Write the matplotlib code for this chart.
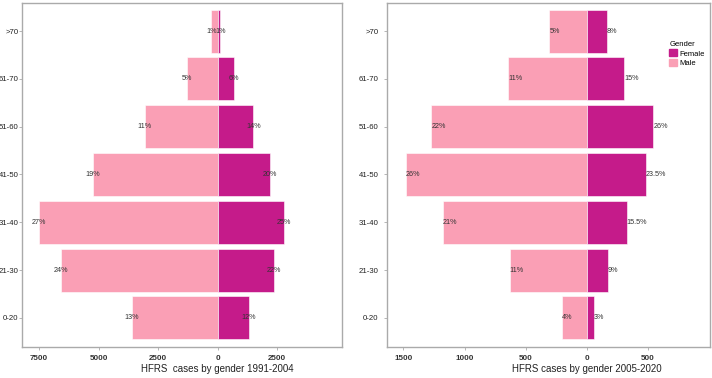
import matplotlib.pyplot as plt
import matplotlib.transforms as mtransforms
from matplotlib.patches import Patch
import numpy as np

plt.rcParams['font.family'] = ['Liberation Sans', 'DejaVu Sans']

# Age groups, bottom to top
age_groups = ["0-20", "21-30", "31-40", "41-50", "51-60", "61-70", ">70"]

# 1991-2004 case counts
male_9104 = [3600, 6580, 7500, 5250, 3070, 1290, 270]
female_9104 = [1300, 2370, 2770, 2210, 1500, 690, 110]
male_lab_9104 = ["13%", "24%", "27%", "19%", "11%", "5%", "1%"]
female_lab_9104 = ["12%", "22%", "25%", "20%", "14%", "6%", "1%"]

# 2005-2020 case counts
male_0520 = [200, 630, 1175, 1480, 1273, 645, 306]
female_0520 = [60, 175, 328, 486, 546, 306, 164]
male_lab_0520 = ["4%", "11%", "21%", "26%", "22%", "11%", "5%"]
female_lab_0520 = ["3%", "9%", "15.5%", "23.5%", "26%", "15%", "8%"]

col_female = "#C51B8A"
col_male = "#FA9FB5"
spine_col = "#aaaaaa"

fig = plt.figure(figsize=(7.12, 3.78), dpi=100)
ax1 = fig.add_axes([22 / 712, 1 - 346.5 / 378, 319.5 / 712, 344 / 378])
ax2 = fig.add_axes([387 / 712, 1 - 346.5 / 378, 323 / 712, 344 / 378])

y = np.arange(len(age_groups))


def pyramid(ax, male, female, mlab, flab, xlim, ticks, xlabel, centered, ypad):
    male = np.array(male)
    female = np.array(female)
    ax.barh(y, -male, height=0.9, color=col_male, edgecolor="white", linewidth=0.4)
    ax.barh(y, female, height=0.9, color=col_female, edgecolor="white", linewidth=0.4)
    ha = "center" if centered else "left"
    for i in range(len(y)):
        ax.text(-male[i], y[i], mlab[i], ha=ha, va="center", fontsize=5.2, color="#333333")
        ax.text(female[i], y[i], flab[i], ha=ha, va="center", fontsize=5.2, color="#333333")
    ax.set_xlim(*xlim)
    ax.set_ylim(-0.6, 6.6)
    ax.set_yticks(y)
    ax.set_yticklabels(age_groups, fontsize=5.6, color="#222222")
    ax.set_xticks(ticks)
    ax.set_xticklabels([str(abs(t)) for t in ticks], fontsize=5.8, fontweight="bold", color="#333333")
    ax.tick_params(length=2, width=0.6, color=spine_col)
    ax.tick_params(axis="y", pad=ypad)
    ax.tick_params(axis="x", pad=4)
    for s in ax.spines.values():
        s.set_color(spine_col)
        s.set_linewidth(1.0)
    trans = mtransforms.blended_transform_factory(ax.transData, fig.transFigure)
    ax.text(0, 1 - 369 / 378, xlabel, transform=trans, ha="center", va="center",
            fontsize=7, color="#222222")


pyramid(ax1, male_9104, female_9104, male_lab_9104, female_lab_9104,
        (-8220, 5200), [-7500, -5000, -2500, 0, 2500],
        "HFRS  cases by gender 1991-2004", True, 0.5)
pyramid(ax2, male_0520, female_0520, male_lab_0520, female_lab_0520,
        (-1635, 1010), [-1500, -1000, -500, 0, 500],
        "HFRS cases by gender 2005-2020", False, 4)

# Legend
handles = [Patch(color=col_female, label="Female"), Patch(color=col_male, label="Male")]
leg = fig.legend(handles=handles, title="Gender", loc="upper left",
                 bbox_to_anchor=(664 / 712, 1 - 36 / 378), frameon=False,
                 fontsize=5.5, title_fontsize=5.5, handlelength=1.0, handleheight=1.0,
                 handletextpad=0.3, labelspacing=0.15, borderpad=0.2)
leg._legend_box.align = "left"

plt.savefig("out.png", dpi=100)
